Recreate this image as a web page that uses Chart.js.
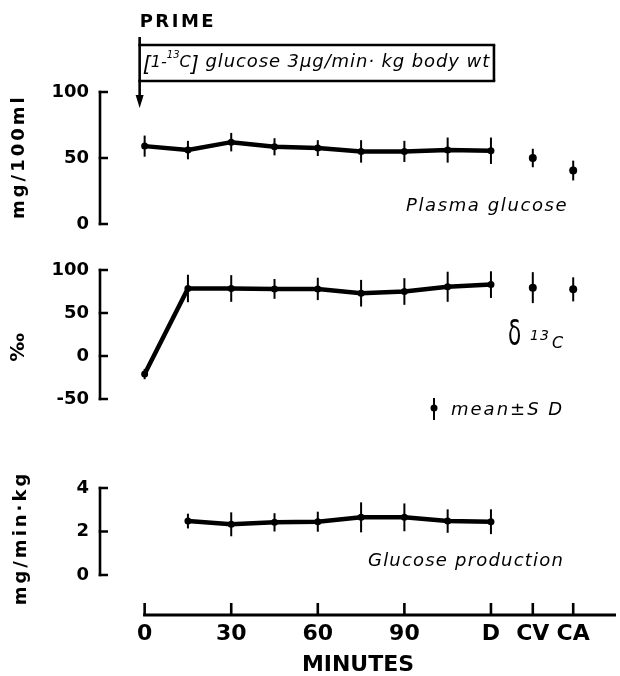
<!DOCTYPE html>
<html><head><meta charset="utf-8">
<script src="https://cdn.jsdelivr.net/npm/chart.js@4.4.1/dist/chart.umd.min.js"></script>
<style>
html,body{margin:0;padding:0;background:#fff;}
#wrap{position:relative;width:620px;height:676px;overflow:hidden;background:#fff;}
#wrap canvas{position:absolute;left:0;top:0;}
</style></head><body>
<div id="wrap">
<canvas id="cGlucose" width="620" height="676"></canvas>
<canvas id="cDelta" width="620" height="676"></canvas>
<canvas id="cProd" width="620" height="676"></canvas>
</div>
<script>
// ---- data ----
const minutes = [0, 15, 30, 45, 60, 75, 90, 105, 120];
const plasmaGlucose   = [59, 56, 62, 58.5, 57.5, 55, 55, 56, 55.5];
const plasmaGlucoseSD = [8, 7, 7, 6.5, 6, 8.5, 8, 9.5, 10];
const siteLabels  = ['CV', 'CA'];
const siteMinutes = [134.5, 148.5];
const siteGlucose   = [50, 40.5];
const siteGlucoseSD = [7, 7.5];
const delta13C   = [-21, 78.5, 78.5, 78, 78, 73, 75, 80.5, 83];
const delta13CSD = [6, 16, 15.5, 11.5, 13, 15.5, 15.5, 17.5, 15.5];
const siteDelta13C   = [79.5, 77.5];
const siteDelta13CSD = [18, 14];
const productionMinutes = [15, 30, 45, 60, 75, 90, 105, 120];
const glucoseProduction   = [2.48, 2.33, 2.42, 2.45, 2.65, 2.65, 2.48, 2.45];
const glucoseProductionSD = [0.34, 0.55, 0.42, 0.46, 0.69, 0.64, 0.54, 0.57];
const xTickValues = [0, 30, 60, 90, 120, 134.5, 148.5];
const xTickLabels = ['0', '30', '60', '90', 'D', 'CV', 'CA'];
const plasmaTicks = [0, 50, 100];
const deltaTicks = [-50, 0, 50, 100];
const productionTicks = [0, 2, 4];
const infusionEnd = 120;

// ---- style ----
const INK = '#000';
const FONT = '"DejaVu Sans", "Liberation Sans", sans-serif';
Chart.defaults.font.family = FONT;
Chart.defaults.color = INK;
const X_MIN = -15.47, X_MAX = 163.33;

function pts(xs, ys) { return xs.map((x, i) => ({ x: x, y: ys[i] })); }
function spacing(ctx, px) { if ('letterSpacing' in ctx) ctx.letterSpacing = px + 'px'; }
function text(ctx, str, x, y, font, sp, align, base) {
  ctx.save(); ctx.font = font; spacing(ctx, sp || 0);
  ctx.fillStyle = INK; ctx.textAlign = align || 'left'; ctx.textBaseline = base || 'alphabetic';
  ctx.fillText(str, x, y); const w = ctx.measureText(str).width; ctx.restore(); return w;
}
function seg(ctx, x1, y1, x2, y2, w) {
  ctx.save(); ctx.lineWidth = w; ctx.strokeStyle = INK; ctx.lineCap = 'butt';
  ctx.beginPath(); ctx.moveTo(x1, y1); ctx.lineTo(x2, y2); ctx.stroke(); ctx.restore();
}

function lineSet(xs, ys, sd) {
  return { data: pts(xs, ys), errors: sd, showLine: true, borderColor: INK, borderWidth: 4.5,
    pointRadius: 3.5, pointBackgroundColor: INK, pointBorderWidth: 0, tension: 0 };
}
function dotSet(xs, ys, sd) {
  return { data: pts(xs, ys), errors: sd, showLine: false, pointRadius: 4,
    pointBackgroundColor: INK, pointBorderWidth: 0 };
}

function makeDecor(id, cfg, extra) {
  return {
    id: id,
    beforeDatasetsDraw(chart) {
      const ctx = chart.ctx;
      chart.data.datasets.forEach((ds, i) => {
        if (!ds.errors) return;
        const meta = chart.getDatasetMeta(i);
        const ys = chart.scales[meta.yAxisID];
        meta.data.forEach((pt, j) => {
          const v = ds.data[j].y, e = ds.errors[j];
          seg(ctx, pt.x, ys.getPixelForValue(v + e), pt.x, ys.getPixelForValue(v - e), 2);
        });
      });
    },
    afterDraw(chart) {
      const ctx = chart.ctx, ys = chart.scales.y;
      const vals = ys.ticks.map(t => t.value);
      const ax = ys.right;
      const top = ys.getPixelForValue(Math.max.apply(null, vals));
      const bot = ys.getPixelForValue(Math.min.apply(null, vals));
      seg(ctx, ax, top - 1.25, ax, bot + 1.25, 2.6);
      vals.forEach(v => { const p = ys.getPixelForValue(v); seg(ctx, ax - 1.3, p, ax + 8, p, 2.5); });
      ctx.save();
      ctx.translate(cfg.titleX, ys.getPixelForValue(cfg.titleAt));
      ctx.rotate(-Math.PI / 2);
      ctx.font = cfg.titleFont; spacing(ctx, cfg.titleSpacing);
      ctx.textAlign = 'center'; ctx.textBaseline = 'alphabetic'; ctx.fillStyle = INK;
      ctx.fillText(cfg.title, 0, 0);
      ctx.restore();
      if (extra) extra(chart, ctx);
    }
  };
}

function panel(canvasId, o) {
  const showX = !!o.showX;
  return new Chart(document.getElementById(canvasId), {
    type: 'scatter',
    data: { datasets: o.datasets },
    options: {
      responsive: false, animation: false, events: [],
      layout: { padding: { top: o.padTop, bottom: o.padBottom, left: 0, right: 0 } },
      plugins: { legend: { display: false }, tooltip: { enabled: false } },
      scales: {
        x: {
          type: 'linear', min: X_MIN, max: X_MAX, display: showX,
          grid: { display: false, drawTicks: false }, border: { display: false },
          afterBuildTicks: s => { s.ticks = xTickValues.map(v => ({ value: v })); },
          afterFit: s => { if (showX) s.height = 61; },
          ticks: { autoSkip: false, maxRotation: 0, minRotation: 0, padding: 6, font: { size: 22, weight: 'bold' }, color: INK,
            callback: (v, i) => xTickLabels[i] },
          title: { display: showX, text: 'MINUTES', font: { size: 22, weight: 'bold', lineHeight: 1 }, padding: { top: 0, bottom: 0 }, color: INK }
        },
        y: {
          type: 'linear', min: o.yMin, max: o.yMax,
          grid: { display: false, drawTicks: false }, border: { display: false },
          afterBuildTicks: s => { s.ticks = o.yTicks.map(v => ({ value: v })); },
          afterFit: s => { s.width = 100; },
          ticks: { autoSkip: false, padding: 11, font: { size: 18, weight: 'bold' }, color: INK, callback: v => String(v) }
        }
      }
    },
    plugins: [o.decor]
  });
}

// ---- top panel: plasma glucose ----
panel('cGlucose', {
  padTop: 92, padBottom: 452, yMin: 0, yMax: 100, yTicks: plasmaTicks,
  datasets: [lineSet(minutes, plasmaGlucose, plasmaGlucoseSD), dotSet(siteMinutes, siteGlucose, siteGlucoseSD)],
  decor: makeDecor('decorGlucose',
    { title: 'mg/100ml', titleAt: 51, titleX: 24, titleFont: 'bold 18px ' + FONT, titleSpacing: 3 },
    (chart, ctx) => {
      const xs = chart.scales.x;
      const ax = xs.getPixelForValue(0) - 5;
      text(ctx, 'PRIME', ax, 27, 'bold 18px ' + FONT, 2.5);
      seg(ctx, ax, 37, ax, 99, 2.6);
      ctx.save(); ctx.fillStyle = INK; ctx.beginPath();
      ctx.moveTo(ax - 4, 95); ctx.lineTo(ax + 4, 95); ctx.lineTo(ax, 108); ctx.closePath(); ctx.fill(); ctx.restore();
      const bx2 = xs.getPixelForValue(infusionEnd) + 3;
      seg(ctx, ax - 1.3, 45, bx2 + 1.3, 45, 2.6);
      seg(ctx, ax - 1.3, 81, bx2 + 1.3, 81, 2.6);
      seg(ctx, bx2, 45, bx2, 81, 2.6);
      let cx = ax + 3;
      cx += text(ctx, '[', cx, 71, 'italic 21px ' + FONT, 0);
      cx += text(ctx, '1-', cx, 67, 'italic 16px ' + FONT, 0);
      cx += text(ctx, '13', cx, 58, 'italic 10px ' + FONT, 0);
      cx += text(ctx, 'C', cx, 67, 'italic 16px ' + FONT, 0);
      cx += text(ctx, ']', cx, 71, 'italic 21px ' + FONT, 0);
      text(ctx, ' glucose 3\u00b5g/min\u00b7 kg body wt', cx, 67, 'italic 18px ' + FONT, 0.9);
      text(ctx, 'Plasma glucose', 406, 211, 'italic 18px ' + FONT, 1.6);
    })
});

// ---- middle panel: delta 13C ----
panel('cDelta', {
  padTop: 270, padBottom: 277, yMin: -50, yMax: 100, yTicks: deltaTicks,
  datasets: [lineSet(minutes, delta13C, delta13CSD), dotSet(siteMinutes, siteDelta13C, siteDelta13CSD)],
  decor: makeDecor('decorDelta',
    { title: '\u2030', titleAt: 10, titleX: 24, titleFont: 'bold 20px ' + FONT, titleSpacing: 0 },
    (chart, ctx) => {
      ctx.save(); ctx.translate(508, 345); ctx.scale(0.6, 1);
      text(ctx, '\u03b4', 0, 0, '36px ' + FONT, 0);
      ctx.restore();
      text(ctx, '13', 530, 340, 'italic 14px ' + FONT, 1);
      text(ctx, 'C', 552, 348, 'italic 16px ' + FONT, 0);
      seg(ctx, 434, 398, 434, 420, 2);
      ctx.save(); ctx.fillStyle = INK; ctx.beginPath(); ctx.arc(434, 408, 3.5, 0, Math.PI * 2); ctx.fill(); ctx.restore();
      text(ctx, 'mean\u00b1S D', 451, 415, 'italic 18px ' + FONT, 2);
    })
});

// ---- bottom panel: glucose production ----
panel('cProd', {
  padTop: 488, padBottom: 0, yMin: -1.84, yMax: 4, yTicks: productionTicks, showX: true,
  datasets: [lineSet(productionMinutes, glucoseProduction, glucoseProductionSD)],
  decor: makeDecor('decorProd',
    { title: 'mg/min\u00b7kg', titleAt: 1.7, titleX: 26, titleFont: 'bold 18px ' + FONT, titleSpacing: 3 },
    (chart, ctx) => {
      const xs = chart.scales.x, yb = chart.chartArea.bottom;
      seg(ctx, xs.getPixelForValue(0) - 1.5, yb, chart.chartArea.right, yb, 3);
      xTickValues.forEach(v => { const p = xs.getPixelForValue(v); seg(ctx, p, yb + 1, p, yb - 12, 2.6); });
      text(ctx, 'Glucose production', 368, 566, 'italic 18px ' + FONT, 1.2);
    })
});
</script>
</body></html>
